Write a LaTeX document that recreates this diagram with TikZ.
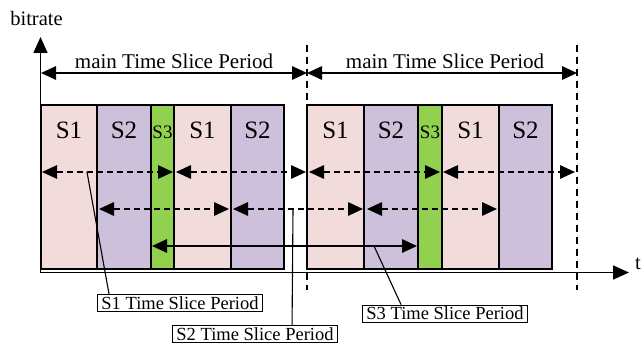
\documentclass[tikz,border=0pt]{standalone}
\usepackage{fontspec}
\setmainfont{Liberation Serif}
\usetikzlibrary{arrows.meta,calc}
\definecolor{sonepink}{RGB}{242,220,219}
\definecolor{stwopurple}{RGB}{204,192,218}
\definecolor{sthreegreen}{RGB}{146,208,80}

% one time slot: name, left x, right x, fill colour, caption
\newcommand\timeslot[5]{%
  \node[slot, fill=#4, minimum width={(#3-#2)*1pt}] (#1) at (#2,105) {};
  \node[anchor=base] (#1t) at ($(#1.north)+(0,33)$) {#5};}

\begin{document}
\begin{tikzpicture}[x=1pt,y=-1pt,
  slot/.style={draw=black, line width=1.4pt, anchor=north west,
    minimum height=164pt, inner sep=0pt, outer sep=0pt},
  bigtip/.style={{Triangle[length=15pt,width=13.5pt]}-{Triangle[length=15pt,width=13.5pt]}},
  axis/.style={line width=1.5pt, -{Triangle[length=16pt,width=14pt]}},
  period/.style={line width=1.5pt, bigtip},
  dashedper/.style={line width=1.5pt, dash pattern=on 6pt off 4pt, bigtip},
  divider/.style={line width=1.5pt, dash pattern=on 7pt off 5pt},
  tag/.style={draw=black, line width=0.8pt, font=\fontsize{18.5}{20}\selectfont,
    inner xsep=4pt, inner ysep=2pt},
  leader/.style={line width=1.1pt}
]
\useasboundingbox (0,0) rectangle (642,345);

% slots of the first main period
\begin{scope}[every node/.append style={font=\fontsize{25}{27}\selectfont}]
\timeslot{a1}{41}{97}{sonepink}{S1}
\timeslot{a2}{97}{151}{stwopurple}{S2}
\timeslot{a3}{151}{174}{sthreegreen}{\fontsize{19}{21}\selectfont S3}
\timeslot{a4}{174}{231}{sonepink}{S1}
\timeslot{a5}{231}{284}{stwopurple}{S2}
% slots of the second main period
\timeslot{b1}{307}{364}{sonepink}{S1}
\timeslot{b2}{364}{418}{stwopurple}{S2}
\timeslot{b3}{418}{442}{sthreegreen}{\fontsize{19}{21}\selectfont S3}
\timeslot{b4}{442}{499}{sonepink}{S1}
\timeslot{b5}{499}{552}{stwopurple}{S2}
\end{scope}

% axes
\coordinate (o) at (40.5,272.5);
\coordinate (ytop) at (40.5,37);
\coordinate (xend) at (629,272.5);
\draw[axis] (o) -- (ytop);
\draw[axis] (39.8,272.5) -- (xend);
\node[anchor=base, font=\fontsize{20.5}{22}\selectfont] (ylab) at (36.5,26) {bitrate};
\node[anchor=west, font=\fontsize{20.5}{22}\selectfont, inner sep=0pt] (xlab) at (635,264) {t};

% boundaries of the main periods
\coordinate (d1t) at (307,45);  \coordinate (d1b) at (307,290);
\coordinate (d2t) at (577,45);  \coordinate (d2b) at (577,290);
\draw[divider] (d1t) -- (d1b);
\draw[divider] (d2t) -- (d2b);

% main time slice periods
\coordinate (m0) at (41,73);
\coordinate (m1) at (307,73);
\coordinate (m2) at (577,73);
\draw[period] (m0) -- (m1);
\draw[period] (m1) -- (m2);
\node[anchor=base, font=\fontsize{21}{23}\selectfont] (mt1) at (174,68) {main Time Slice Period};
\node[anchor=base, font=\fontsize{21}{23}\selectfont] (mt2) at (445,68) {main Time Slice Period};

% S1 periods
\coordinate (p0) at (42,172);  \coordinate (p1) at (173,172);
\coordinate (p2) at (176,172); \coordinate (p3) at (306,172);
\coordinate (p4) at (309,172); \coordinate (p5) at (440,172);
\coordinate (p6) at (443,172); \coordinate (p7) at (575,172);
\draw[dashedper] (p0) -- (p1);
\draw[dashedper] (p2) -- (p3);
\draw[dashedper] (p4) -- (p5);
\draw[dashedper] (p6) -- (p7);

% S2 periods
\coordinate (q0) at (99,209);  \coordinate (q1) at (229,209);
\coordinate (q2) at (233,209); \coordinate (q3) at (363,209);
\coordinate (q4) at (367,209); \coordinate (q5) at (497,209);
\draw[dashedper] (q0) -- (q1);
\draw[dashedper] (q2) -- (q3);
\draw[dashedper] (q4) -- (q5);

% S3 period
\coordinate (r0) at (152,246); \coordinate (r1) at (417,246);
\draw[period] (r0) -- (r1);

% period labels with leader lines
\node[tag] (l1) at (180,303) {S1 Time Slice Period};
\node[tag] (l2) at (255,334) {S2 Time Slice Period};
\node[tag] (l3) at (445,313.5) {S3 Time Slice Period};
\coordinate (k1) at (87,172);
\coordinate (k2) at (293,209);
\coordinate (k3) at (374,246);
\draw[leader] ($(l1.north west)+(12,0)$) -- (k1);
\draw[leader] ($(l2.north west)+(120,0)$) -- (k2);
\draw[leader] ($(l3.north west)+(39,0)$) -- (k3);
\end{tikzpicture}
\end{document}
